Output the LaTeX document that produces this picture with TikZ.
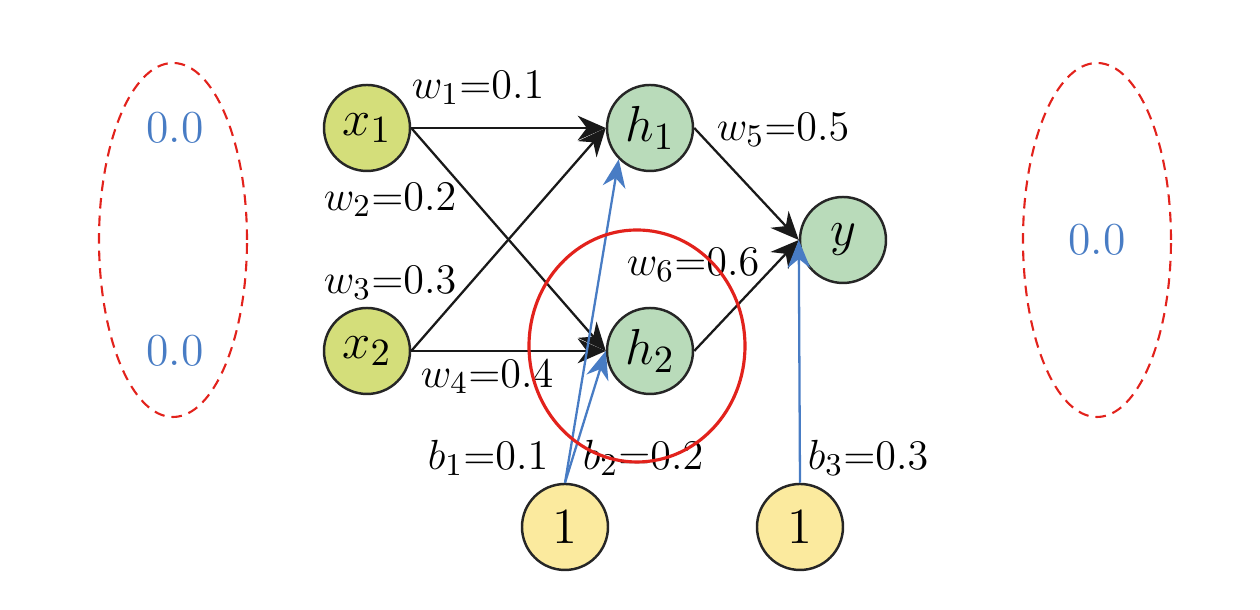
\documentclass[tikz,border=0pt]{standalone}
\usepackage{tikz}
\usetikzlibrary{arrows.meta,positioning,shapes.geometric}

\definecolor{xfill}{RGB}{212,222,122}
\definecolor{hfill}{RGB}{185,219,186}
\definecolor{bfill}{RGB}{251,234,158}
\definecolor{bluelink}{RGB}{72,124,196}
\definecolor{redmark}{RGB}{226,34,28}

\begin{document}
\begin{tikzpicture}[
  neuron/.style={circle,draw=black!85,line width=0.7pt,minimum size=0.86cm,inner sep=0pt,font=\fontsize{15}{17}\selectfont},
  wlabel/.style={font=\fontsize{12.5}{14}\selectfont},
  wlink/.style={-{Stealth[length=8pt,width=7pt]},line width=0.65pt,black!90},
  blink/.style={-{Stealth[length=8pt,width=6.5pt]},line width=0.65pt,bluelink},
  zero/.style={font=\fontsize{13}{15}\selectfont,text=bluelink},
  ghost/.style={ellipse,draw=redmark,dash pattern=on 3pt off 2pt,line width=0.6pt,minimum width=1.48cm,minimum height=3.54cm}
]
\useasboundingbox (0,0) rectangle (12.6,6.1);

% Entradas
\node[neuron,fill=xfill] (x1) at (3.67,4.82) {$x_1$};
\node[neuron,fill=xfill] (x2) at (3.67,2.59) {$x_2$};

% Capa oculta y salida
\node[neuron,fill=hfill] (h1) at (6.50,4.82) {$h_1$};
\node[neuron,fill=hfill] (h2) at (6.50,2.59) {$h_2$};
\node[neuron,fill=hfill] (y) at (8.43,3.70) {$y$};

% Sesgos
\node[neuron,fill=bfill] (one1) at (5.65,0.83) {$1$};
\node[neuron,fill=bfill] (one2) at (8.00,0.83) {$1$};

% Pesos
\draw[wlink] (x1.east) -- (h1.west);
\draw[wlink] (x1.east) -- (h2.west);
\draw[wlink] (x2.east) -- (h1.west);
\draw[wlink] (x2.east) -- (h2.west);
\draw[wlink] (h1.east) -- (y.west);
\draw[wlink] (h2.east) -- (y.west);

% Enlaces de sesgo
\draw[blink] (one1.north) -- (h1.south west);
\draw[blink] (one1.north) -- (h2.west);
\draw[blink] (one2.north) -- (y.west);

% Etiquetas
\node[wlabel] (lw1) at (4.78,5.22) {$w_1{=}0.1$};
\node[wlabel] (lw2) at (3.90,4.10) {$w_2{=}0.2$};
\node[wlabel] (lw3) at (3.90,3.27) {$w_3{=}0.3$};
\node[wlabel] (lw4) at (4.87,2.33) {$w_4{=}0.4$};
\node[wlabel] (lw5) at (7.83,4.80) {$w_5{=}0.5$};
\node[wlabel] (lw6) at (6.93,3.45) {$w_6{=}0.6$};
\node[wlabel] (lb1) at (4.88,1.52) {$b_1{=}0.1$};
\node[wlabel] (lb2) at (6.43,1.52) {$b_2{=}0.2$};
\node[wlabel] (lb3) at (8.68,1.52) {$b_3{=}0.3$};

% Valores iniciales
\node[ghost] (left) at (1.73,3.70) {};
\node[zero] (z1) at (1.75,4.82) {0.0};
\node[zero] (z2) at (1.75,2.59) {0.0};
\node[ghost] (right) at (10.97,3.70) {};
\node[zero] (z3) at (10.97,3.70) {0.0};

% Marca
\draw[redmark,line width=0.9pt] (6.37,2.64) ellipse (1.08 and 1.16);
\end{tikzpicture}
\end{document}
